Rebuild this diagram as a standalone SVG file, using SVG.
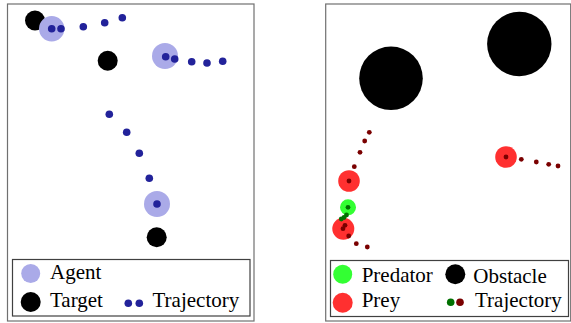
<svg xmlns="http://www.w3.org/2000/svg" width="571" height="323" viewBox="0 0 571 323">
<style>
.frame{fill:#fff;stroke:#707070;stroke-width:1.2}
.leg{fill:#fff;stroke:#404040;stroke-width:1.2}
.agent{fill:#aaaae8}
.tgt{fill:#000}
.bd{fill:#22229a}
.prey{fill:#ff3030}
.pred{fill:#33ff33}
.rd{fill:#7a0000}
.gd{fill:#007000}
text{font-family:"Liberation Serif","Times New Roman",serif;font-size:21px;fill:#000}
</style>
<rect width="571" height="323" fill="#fff"/>
<g id="left-panel">
<rect class="frame" x="7.5" y="4" width="246.5" height="317"/>
<g id="targets">
<circle class="tgt" cx="35" cy="20.5" r="10"/>
<circle class="tgt" cx="107.7" cy="60.7" r="10"/>
<circle class="tgt" cx="156.7" cy="237.3" r="10"/>
</g>
<g id="agents">
<circle class="agent" cx="51.7" cy="28.7" r="12.7"/>
<circle class="agent" cx="165" cy="56" r="13"/>
<circle class="agent" cx="157" cy="204" r="13"/>
</g>
<g id="trajectory-left">
<circle class="bd" cx="51.7" cy="28.7" r="3.8"/>
<circle class="bd" cx="61" cy="28.7" r="3.8"/>
<circle class="bd" cx="83.3" cy="26.7" r="3.8"/>
<circle class="bd" cx="104.7" cy="22.7" r="3.8"/>
<circle class="bd" cx="122.3" cy="17.7" r="3.8"/>
<circle class="bd" cx="165.7" cy="56.7" r="3.8"/>
<circle class="bd" cx="174.7" cy="59" r="3.8"/>
<circle class="bd" cx="191.7" cy="61.7" r="3.8"/>
<circle class="bd" cx="207" cy="63" r="3.8"/>
<circle class="bd" cx="222.7" cy="61.3" r="3.8"/>
<circle class="bd" cx="109.3" cy="114.3" r="3.8"/>
<circle class="bd" cx="126.7" cy="132.3" r="3.8"/>
<circle class="bd" cx="139.3" cy="153.3" r="3.8"/>
<circle class="bd" cx="149.3" cy="178.3" r="3.8"/>
<circle class="bd" cx="157" cy="204" r="3.8"/>
</g>
<g id="legend-left">
<rect class="leg" x="12.5" y="259.5" width="237.5" height="56.5"/>
<circle class="agent" cx="30.7" cy="273.5" r="9.5"/>
<text x="50" y="279.3">Agent</text>
<circle class="tgt" cx="30.7" cy="302" r="10"/>
<text x="50" y="307.3">Target</text>
<circle class="bd" cx="128.3" cy="303.3" r="3.8"/>
<circle class="bd" cx="139.3" cy="303.3" r="3.8"/>
<text x="152.5" y="307.3">Trajectory</text>
</g>
</g>
<g id="right-panel">
<rect class="frame" x="325.7" y="4" width="245" height="317"/>
<g id="obstacles">
<circle class="tgt" cx="391" cy="78.3" r="31.8"/>
<circle class="tgt" cx="519.3" cy="44" r="32.2"/>
</g>
<g id="prey">
<circle class="prey" cx="506" cy="157" r="10.8"/>
<circle class="prey" cx="349" cy="181" r="10.8"/>
<circle class="prey" cx="343.3" cy="228.7" r="11"/>
</g>
<g id="predator">
<circle class="pred" cx="348" cy="207.3" r="8"/>
</g>
<g id="trajectory-right">
<circle class="rd" cx="506" cy="157" r="2.4"/>
<circle class="rd" cx="521.3" cy="159.3" r="2.4"/>
<circle class="rd" cx="536.3" cy="162" r="2.4"/>
<circle class="rd" cx="548.7" cy="164.3" r="2.4"/>
<circle class="rd" cx="558" cy="166" r="2.4"/>
<circle class="rd" cx="369.3" cy="132.3" r="2.4"/>
<circle class="rd" cx="364.7" cy="141" r="2.4"/>
<circle class="rd" cx="360" cy="152.3" r="2.4"/>
<circle class="rd" cx="354.3" cy="166.7" r="2.4"/>
<circle class="rd" cx="349" cy="181" r="2.4"/>
<circle class="rd" cx="345" cy="225.3" r="2.4"/>
<circle class="rd" cx="343" cy="228.7" r="2.4"/>
<circle class="rd" cx="348.7" cy="236" r="2.4"/>
<circle class="rd" cx="356.3" cy="243.7" r="2.4"/>
<circle class="rd" cx="367.3" cy="247" r="2.4"/>
<circle class="gd" cx="348" cy="207.3" r="2.4"/>
<circle class="gd" cx="346.5" cy="215" r="2.4"/>
<circle class="gd" cx="344" cy="217.5" r="2.4"/>
<circle class="gd" cx="341.3" cy="219" r="2.4"/>
</g>
<g id="legend-right">
<rect class="leg" x="330.5" y="260.5" width="238" height="56"/>
<circle class="pred" cx="342.7" cy="274.3" r="9.5"/>
<text x="361.7" y="281.5">Predator</text>
<circle class="tgt" cx="455.3" cy="274.3" r="10"/>
<text x="473.3" y="283">Obstacle</text>
<circle class="prey" cx="342.7" cy="302.7" r="10"/>
<text x="361.7" y="306.7">Prey</text>
<circle class="gd" cx="450.7" cy="302.3" r="3.8"/>
<circle class="rd" cx="460" cy="302.3" r="3.8"/>
<text x="475" y="306.7">Trajectory</text>
</g>
</g>
</svg>
